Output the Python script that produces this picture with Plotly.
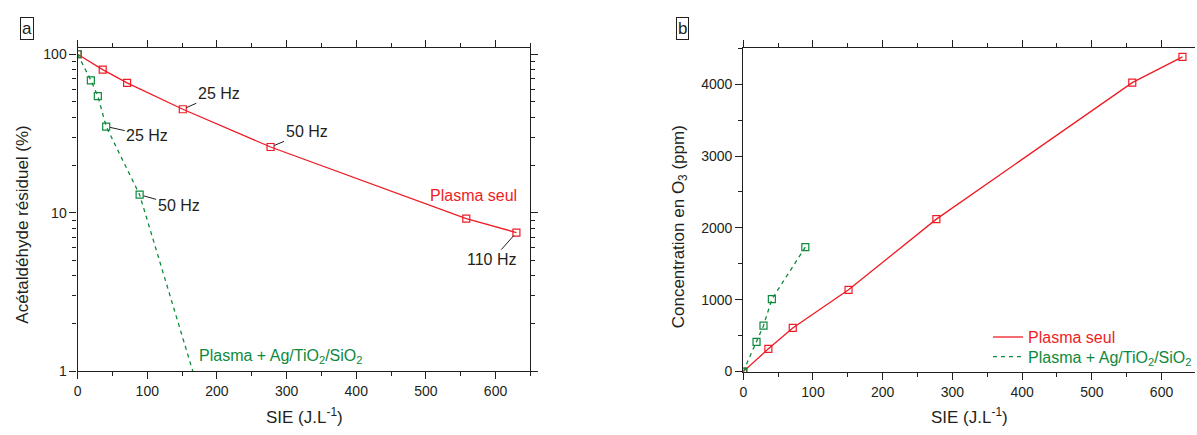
import math
import plotly.graph_objects as go

# ---- data ----
sie_plasma = [0, 36, 71, 151, 277, 558, 630]
acet_plasma = [100, 80, 66, 45, 26, 9.2, 7.5]
sie_cat = [0, 19, 29, 41, 89, 176]
acet_cat = [100, 68.5, 54.5, 35, 13, 0.7]
sie_cat_o3 = [0, 19, 29, 41, 89]
o3_plasma = [0, 317, 607, 1138, 2122, 4022, 4381]
o3_cat = [0, 412, 639, 1007, 1732]
freq_plasma_x = [151, 277, 630]
freq_plasma_lbl = ["25 Hz", "50 Hz", "110 Hz"]
freq_cat_x = [41, 89]
freq_cat_lbl = ["25 Hz", "50 Hz"]
x_ticks = [0, 100, 200, 300, 400, 500, 600]
x_minor = [50, 150, 250, 350, 450, 550, 650]
log_ticks = [1, 10, 100]
log_minor = [2, 3, 4, 5, 6, 7, 8, 9, 20, 30, 40, 50, 60, 70, 80, 90]
o3_ticks = [0, 1000, 2000, 3000, 4000]
o3_minor = [500, 1500, 2500, 3500, 4500]

RED = "#ee1c25"
GREEN = "#0d8a3c"
INK = "#231f20"
FONT = "Arial, Liberation Sans, sans-serif"
W, H = 1197, 435
NAME_PLASMA = "Plasma seul"
NAME_CAT = "Plasma + Ag/TiO<sub>2</sub>/SiO<sub>2</sub>"

fig = go.Figure()
mk = dict(symbol="square-open", size=7, line=dict(width=1.2))
red_line = dict(color=RED, width=1.3)
green_line = dict(color=GREEN, width=1.3, dash="4px,4px")

fig.add_trace(go.Scatter(x=sie_plasma, y=acet_plasma, mode="lines+markers", line=red_line,
                         marker=dict(color=RED, **mk), showlegend=False, xaxis="x", yaxis="y"))
fig.add_trace(go.Scatter(x=sie_cat, y=acet_cat, mode="lines+markers", line=green_line,
                         marker=dict(color=GREEN, **mk), showlegend=False, xaxis="x", yaxis="y"))
fig.add_trace(go.Scatter(x=sie_plasma, y=o3_plasma, mode="lines+markers", line=red_line,
                         marker=dict(color=RED, **mk), showlegend=False, xaxis="x2", yaxis="y2"))
fig.add_trace(go.Scatter(x=sie_cat_o3, y=o3_cat, mode="lines+markers", line=green_line,
                         marker=dict(color=GREEN, **mk), showlegend=False, xaxis="x2", yaxis="y2"))
# legend entries (line only, as in the reference)
fig.add_trace(go.Scatter(x=[None], y=[None], mode="lines", line=red_line, legend="legend",
                         name='<span style="color:%s">%s</span>' % (RED, NAME_PLASMA),
                         xaxis="x2", yaxis="y2"))
fig.add_trace(go.Scatter(x=[None], y=[None], mode="lines", line=green_line, legend="legend2",
                         name='<span style="color:%s">%s</span>' % (GREEN, NAME_CAT),
                         xaxis="x2", yaxis="y2"))

common = dict(showline=True, linecolor=INK, linewidth=1.3, ticks="outside", ticklen=7,
              tickwidth=1.3, tickcolor=INK, showgrid=False, zeroline=False,
              tickfont=dict(family=FONT, size=14, color=INK))
minor_common = dict(ticks="outside", ticklen=4, tickwidth=1.3, tickcolor=INK, showgrid=False)
leg = dict(xanchor="left", yanchor="middle", bgcolor="rgba(0,0,0,0)",
           font=dict(family=FONT, size=16, color=INK))

fig.update_layout(
    width=W, height=H, margin=dict(l=0, r=0, t=0, b=0),
    paper_bgcolor="white", plot_bgcolor="white",
    xaxis=dict(domain=[74 / W, 529 / W], range=[0, 650], tickvals=x_ticks, mirror="allticks",
               anchor="y", minor=dict(tickvals=x_minor, **minor_common), **common),
    yaxis=dict(domain=[1 - 378 / H, 1 - 47 / H], type="log", range=[0, 2.04], tickvals=log_ticks,
               ticktext=[str(v) for v in log_ticks], mirror="allticks", anchor="x",
               minor=dict(tickvals=log_minor, **minor_common), **common),
    xaxis2=dict(domain=[743 / W, 1.0], range=[0, 648], tickvals=x_ticks, mirror="allticks",
                anchor="y2", minor=dict(tickvals=x_minor, **minor_common), **common),
    yaxis2=dict(domain=[1 - 379 / H, 1 - 47 / H], range=[-10, 4505], tickvals=o3_ticks, anchor="x2",
                minor=dict(tickvals=o3_minor, **minor_common), **common),
    legend=dict(x=989 / W, y=1 - 343 / H, **leg),
    legend2=dict(x=989 / W, y=1 - 363 / H, **leg),
    font=dict(family=FONT, color=INK),
)

ann = []
def hz(x, y, text, ax, ay):
    ann.append(dict(x=x, y=math.log10(y), xref="x", yref="y", text=text, showarrow=True,
                    arrowhead=0, arrowwidth=1, arrowcolor=INK, ax=ax, ay=ay, standoff=4,
                    xanchor="center", yanchor="middle",
                    font=dict(family=FONT, size=16, color=INK)))

offs_plasma = [(36, -16), (36, -15), (-24, 27)]
for fx, lbl, (ax, ay) in zip(freq_plasma_x, freq_plasma_lbl, offs_plasma):
    hz(fx, acet_plasma[sie_plasma.index(fx)], lbl, ax, ay)
offs_cat = [(41, 9), (39, 11)]
for fx, lbl, (ax, ay) in zip(freq_cat_x, freq_cat_lbl, offs_cat):
    hz(fx, acet_cat[sie_cat.index(fx)], lbl, ax, ay)

def txt(**k):
    k.setdefault("xanchor", "center")
    k.setdefault("yanchor", "middle")
    ann.append(dict(showarrow=False, **k))

txt(x=569, y=math.log10(12.9), xref="x", yref="y", text=NAME_PLASMA,
    font=dict(family=FONT, size=16, color=RED))
txt(x=171, y=math.log10(1.24), xref="x", yref="y", xanchor="left", text=NAME_CAT,
    font=dict(family=FONT, size=16, color=GREEN))
# axis titles
txt(x=19 / W, y=1 - 228 / H, xref="paper", yref="paper", textangle=-90,
    text="Acétaldéhyde résiduel (%)", font=dict(family=FONT, size=17, color=INK))
txt(x=679 / W, y=1 - 230 / H, xref="paper", yref="paper", textangle=-90,
    text="Concentration en O<sub>3</sub> (ppm)", font=dict(family=FONT, size=17, color=INK))
txt(x=302 / W, y=1 - 424 / H, xref="paper", yref="paper",
    text="SIE (J.L<sup>-1</sup>)", font=dict(family=FONT, size=17, color=INK))
txt(x=970 / W, y=1 - 424 / H, xref="paper", yref="paper",
    text="SIE (J.L<sup>-1</sup>)", font=dict(family=FONT, size=17, color=INK))
# panel letters
for lx, letter in [(23, "a"), (682, "b")]:
    txt(x=lx / W, y=1 - 27 / H, xref="paper", yref="paper", text=letter,
        bordercolor=INK, borderwidth=1, borderpad=1, font=dict(family=FONT, size=17, color=INK))

fig.update_layout(annotations=ann)
fig.write_html("out.html", config={"displayModeBar": False},
               post_script="document.body.style.margin='0';")
